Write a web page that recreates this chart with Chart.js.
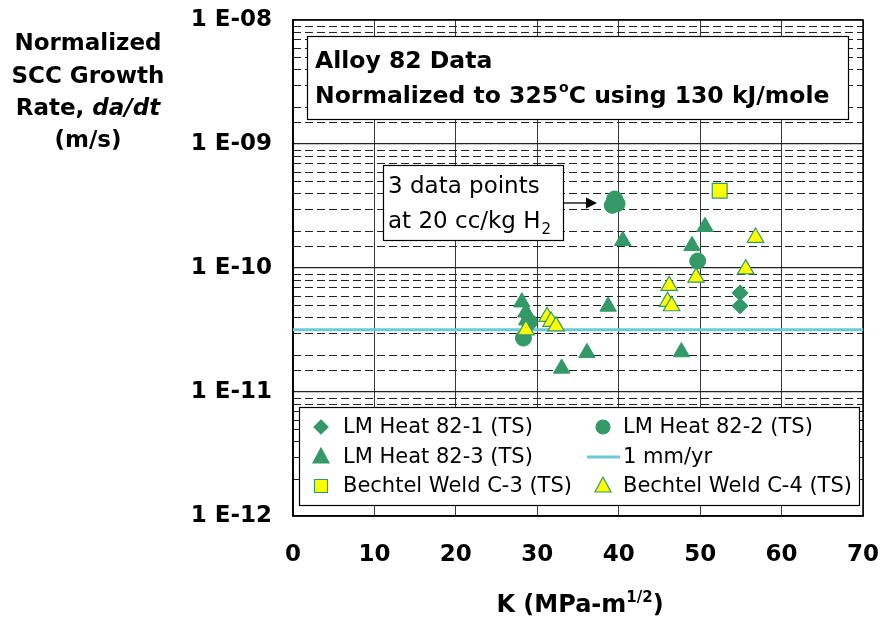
<!DOCTYPE html>
<html>
<head>
<meta charset="utf-8">
<script src="https://cdn.jsdelivr.net/npm/chart.js@4/dist/chart.umd.min.js"></script>
<style>
  html, body { margin: 0; padding: 0; background: #fff; }
  #wrap { width: 885px; height: 620px; position: relative; }
</style>
</head>
<body>
<div id="wrap"><canvas id="c"></canvas></div>
<script>
// Stress intensity K (MPa-m^1/2) and normalized growth rate da/dt (m/s) per heat
const kLM821 = [54.9, 54.9];
const rateLM821 = [6.3e-11, 4.95e-11];

const kLM822 = [28.3, 29.0, 39.2, 39.5, 39.8, 49.7];
const rateLM822 = [2.72e-11, 3.67e-11, 3.2e-10, 3.6e-10, 3.3e-10, 1.14e-10];

const kLM823 = [28.1, 28.6, 28.7, 33.0, 36.1, 38.7, 40.5, 47.7, 49.0, 50.6];
const rateLM823 = [5.3e-11, 4.4e-11, 3.8e-11, 1.55e-11, 2.07e-11, 4.9e-11, 1.66e-10, 2.1e-11, 1.51e-10, 2.15e-10];

const kC3 = [52.4];
const rateC3 = [4.2e-10];

const kC4 = [28.6, 31.2, 31.7, 32.3, 46.0, 46.2, 46.5, 49.5, 55.6, 56.8];
const rateC4 = [3.16e-11, 4.05e-11, 3.7e-11, 3.4e-11, 5.35e-11, 7.2e-11, 4.94e-11, 8.4e-11, 9.8e-11, 1.76e-10];

// 1 mm/yr reference rate expressed in m/s
const kRefLine = [0, 70];
const rateRefLine = [3.17e-11, 3.17e-11];

const seriesLabels = ['LM Heat 82-1 (TS)', 'LM Heat 82-2 (TS)', 'LM Heat 82-3 (TS)',
                      '1 mm/yr', 'Bechtel Weld C-3 (TS)', 'Bechtel Weld C-4 (TS)'];
const xTicks = [0, 10, 20, 30, 40, 50, 60, 70];
const yTickExponents = [-8, -9, -10, -11, -12];

const GREEN = '#339966';
const YELLOW = '#ffff00';
const CYAN = '#6cc8da';
const FONT = '"DejaVu Sans", Verdana, sans-serif';

// wanted plot-area edges on the 885x620 canvas
const AREA = { left: 293, top: 20, right: 863, bottom: 516 };

const pts = (ks, rs) => ks.map((k, i) => ({ x: k, y: rs[i] }));

const isDecade = v => {
  const e = Math.log10(v);
  return Math.abs(e - Math.round(e)) < 1e-6;
};

// Dashed minor grid, boxes, axis titles and legend
const decor = {
  id: 'decor',
  beforeDatasetsDraw(chart) {
    const { ctx, chartArea: a, scales } = chart;
    const y = scales.y;
    ctx.save();
    ctx.strokeStyle = '#222';
    ctx.lineWidth = 1;
    ctx.setLineDash([8, 4]);
    y.ticks.forEach(t => {
      if (isDecade(t.value)) return;
      const py = Math.round(y.getPixelForValue(t.value)) + 0.5;
      ctx.beginPath();
      ctx.moveTo(a.left, py);
      ctx.lineTo(a.right, py);
      ctx.stroke();
    });
    ctx.setLineDash([]);

    // plot frame
    ctx.strokeStyle = '#000';
    ctx.lineWidth = 1.5;
    ctx.strokeRect(a.left, a.top, a.right - a.left, a.bottom - a.top);

    // title box
    ctx.fillStyle = '#fff';
    ctx.strokeStyle = '#000';
    ctx.lineWidth = 1.2;
    ctx.fillRect(307, 36, 541, 83);
    ctx.strokeRect(307.5, 36.5, 541, 83);
    ctx.fillStyle = '#000';
    ctx.textBaseline = 'alphabetic';
    ctx.textAlign = 'left';
    ctx.font = 'bold 23.5px ' + FONT;
    ctx.fillText('Alloy 82 Data', 315, 68);
    let x = 315;
    const line2y = 103;
    const p1 = 'Normalized to 325';
    ctx.fillText(p1, x, line2y);
    x += ctx.measureText(p1).width + 1;
    ctx.font = 'bold 14px ' + FONT;
    ctx.fillText('o', x, line2y - 11);
    x += ctx.measureText('o').width;
    ctx.font = 'bold 23.5px ' + FONT;
    ctx.fillText('C using 130 kJ/mole', x, line2y);

    // note box with arrow
    ctx.fillStyle = '#fff';
    ctx.fillRect(383, 165, 180, 75);
    ctx.strokeStyle = '#000';
    ctx.lineWidth = 1.2;
    ctx.strokeRect(383.5, 165.5, 180, 75);
    ctx.fillStyle = '#000';
    ctx.font = '23px ' + FONT;
    ctx.fillText('3 data points', 388, 193);
    const n2 = 'at 20 cc/kg H';
    ctx.fillText(n2, 388, 228);
    const w2 = ctx.measureText(n2).width;
    ctx.font = '15px ' + FONT;
    ctx.fillText('2', 388 + w2 + 1, 234);
    ctx.beginPath();
    ctx.moveTo(564, 203);
    ctx.lineTo(588, 203);
    ctx.lineWidth = 1.3;
    ctx.stroke();
    ctx.beginPath();
    ctx.moveTo(597, 203);
    ctx.lineTo(586, 197.5);
    ctx.lineTo(586, 208.5);
    ctx.closePath();
    ctx.fill();

    // legend
    ctx.fillStyle = '#fff';
    ctx.fillRect(299, 407, 560, 98);
    ctx.strokeStyle = '#000';
    ctx.lineWidth = 1.2;
    ctx.strokeRect(299.5, 407.5, 560, 98);
    const rowsY = [427, 457, 486];
    const colX = [321, 603];
    chart.data.datasets.forEach((ds, i) => {
      const cx = colX[i % 2], cy = rowsY[Math.floor(i / 2)];
      drawLegendMark(ctx, ds, cx, cy);
      ctx.fillStyle = '#000';
      ctx.font = '21px ' + FONT;
      ctx.textBaseline = 'middle';
      ctx.textAlign = 'left';
      ctx.fillText(ds.label, cx + (i % 2 ? 20 : 22), cy + 1);
    });

    ctx.restore();
  },
  afterDraw(chart) {
    const { ctx } = chart;
    ctx.save();
    ctx.fillStyle = '#000';
    ctx.textAlign = 'center';
    ctx.textBaseline = 'alphabetic';
    ctx.font = 'bold 23px ' + FONT;
    const cx = 88;
    ctx.fillText('Normalized', cx, 50);
    ctx.fillText('SCC Growth', cx, 83);
    const a = 'Rate, ', b = 'da/dt';
    const wa = ctx.measureText(a).width;
    ctx.font = 'italic bold 23px ' + FONT;
    const wb = ctx.measureText(b).width;
    const sx = cx - (wa + wb) / 2;
    ctx.textAlign = 'left';
    ctx.font = 'bold 23px ' + FONT;
    ctx.fillText(a, sx, 115);
    ctx.font = 'italic bold 23px ' + FONT;
    ctx.fillText(b, sx + wa, 115);
    ctx.textAlign = 'center';
    ctx.font = 'bold 23px ' + FONT;
    ctx.fillText('(m/s)', cx, 147);

    // x-axis title with superscript exponent
    const t1 = 'K (MPa-m', t2 = '1/2', t3 = ')';
    ctx.textAlign = 'left';
    ctx.font = 'bold 24px ' + FONT;
    const w1 = ctx.measureText(t1).width;
    ctx.font = 'bold 15px ' + FONT;
    const w2 = ctx.measureText(t2).width;
    ctx.font = 'bold 24px ' + FONT;
    const w3 = ctx.measureText(t3).width;
    let x = 580 - (w1 + w2 + w3) / 2;
    const by = 612;
    ctx.fillText(t1, x, by);
    x += w1;
    ctx.font = 'bold 15px ' + FONT;
    ctx.fillText(t2, x, by - 10);
    x += w2;
    ctx.font = 'bold 24px ' + FONT;
    ctx.fillText(t3, x, by);
    ctx.restore();
  }
};

function drawLegendMark(ctx, ds, x, y) {
  ctx.save();
  ctx.fillStyle = ds.backgroundColor;
  ctx.strokeStyle = ds.borderColor;
  ctx.lineWidth = 1.2;
  ctx.beginPath();
  if (ds.type === 'line') {
    ctx.strokeStyle = CYAN;
    ctx.lineWidth = 3;
    ctx.moveTo(x - 16, y);
    ctx.lineTo(x + 17, y);
    ctx.stroke();
    ctx.restore();
    return;
  }
  const s = ds.pointStyle;
  if (s === 'rectRot') {
    ctx.moveTo(x, y - 7); ctx.lineTo(x + 7, y); ctx.lineTo(x, y + 7); ctx.lineTo(x - 7, y);
  } else if (s === 'circle') {
    ctx.arc(x, y, 7, 0, Math.PI * 2);
  } else if (s === 'triangle') {
    ctx.moveTo(x, y - 9); ctx.lineTo(x + 8, y + 6); ctx.lineTo(x - 8, y + 6);
  } else if (s === 'rect') {
    ctx.rect(x - 6.5, y - 6.5, 13, 13);
  }
  ctx.closePath();
  ctx.fill();
  ctx.stroke();
  ctx.restore();
}

new Chart(document.getElementById('c'), {
  type: 'scatter',
  data: {
    datasets: [
      { label: seriesLabels[0], data: pts(kLM821, rateLM821), pointStyle: 'rectRot', pointRadius: 8,
        backgroundColor: GREEN, borderColor: GREEN, borderWidth: 1, order: 4 },
      { label: seriesLabels[1], data: pts(kLM822, rateLM822), pointStyle: 'circle', pointRadius: 8,
        backgroundColor: GREEN, borderColor: GREEN, borderWidth: 1, order: 3 },
      { label: seriesLabels[2], data: pts(kLM823, rateLM823), pointStyle: 'triangle', pointRadius: 9.5,
        backgroundColor: GREEN, borderColor: GREEN, borderWidth: 1, order: 2 },
      { label: seriesLabels[3], type: 'line', data: pts(kRefLine, rateRefLine), borderColor: CYAN,
        backgroundColor: CYAN, borderWidth: 3, pointRadius: 0, fill: false, order: 5 },
      { label: seriesLabels[4], data: pts(kC3, rateC3), pointStyle: 'rect', pointRadius: 10.5,
        backgroundColor: YELLOW, borderColor: GREEN, borderWidth: 1.2, order: 1 },
      { label: seriesLabels[5], data: pts(kC4, rateC4), pointStyle: 'triangle', pointRadius: 9.5,
        backgroundColor: YELLOW, borderColor: GREEN, borderWidth: 1.2, order: 0 }
    ]
  },
  options: {
    responsive: true,
    maintainAspectRatio: false,
    animation: false,
    devicePixelRatio: 1,
    layout: { padding: { top: AREA.top, right: 885 - AREA.right, left: 0, bottom: 0 } },
    plugins: { legend: { display: false }, tooltip: { enabled: false } },
    scales: {
      x: {
        type: 'linear',
        min: xTicks[0],
        max: xTicks[xTicks.length - 1],
        afterBuildTicks: s => { s.ticks = xTicks.map(v => ({ value: v })); },
        // fixed axis band; label overhang is covered by the layout padding
        afterFit: s => { s.height = 620 - AREA.bottom; s.paddingLeft = 0; s.paddingRight = 0; },
        grid: { color: '#3a3a3a', lineWidth: 1, drawTicks: false },
        border: { display: true, color: '#000', width: 1.5 },
        ticks: { color: '#000', font: { family: FONT, size: 23, weight: 'bold' }, padding: 25, maxRotation: 0 }
      },
      y: {
        type: 'logarithmic',
        min: Math.pow(10, yTickExponents[yTickExponents.length - 1]),
        max: Math.pow(10, yTickExponents[0]),
        afterFit: s => { s.width = AREA.left; s.paddingTop = 0; s.paddingBottom = 0; },
        grid: {
          color: c => (c.tick && isDecade(c.tick.value)) ? '#222' : 'rgba(0,0,0,0)',
          lineWidth: 1.2, drawTicks: false
        },
        border: { display: true, color: '#000', width: 1.5 },
        ticks: {
          autoSkip: false,
          color: '#000',
          padding: 21,
          font: { family: FONT, size: 23, weight: 'bold' },
          callback: v => {
            if (!isDecade(v)) return '';
            const e = Math.round(Math.log10(v));
            return yTickExponents.includes(e) ? '1 E-' + String(-e).padStart(2, '0') : '';
          }
        }
      }
    }
  },
  plugins: [decor]
});
</script>
</body>
</html>
